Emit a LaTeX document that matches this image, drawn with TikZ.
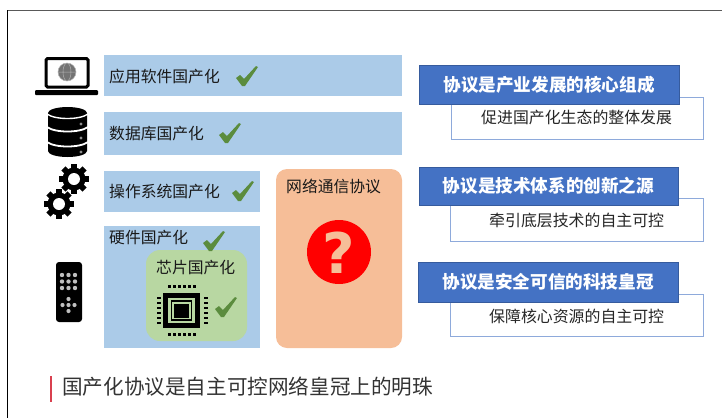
\documentclass[tikz,border=0pt]{standalone}
\usepackage{fontspec}
\setmainfont{Noto Sans CJK SC}
\newfontfamily\latinfont{DejaVu Sans}

\definecolor{layerblue}{HTML}{ABCBE8}
\definecolor{chipgreen}{HTML}{B8D7A2}
\definecolor{protoorange}{HTML}{F6BE98}
\definecolor{titleblue}{HTML}{4472C4}
\definecolor{subblue}{HTML}{8EAADB}
\definecolor{tickgreen}{HTML}{5B8C3E}
\definecolor{barred}{HTML}{D9404F}

\tikzset{
  layerlabel/.style={anchor=west,inner sep=0pt,text=black!90,font=\fontsize{15.8}{16}\selectfont},
  titlelabel/.style={text=white,inner sep=0pt,font=\fontsize{17.6}{18}\selectfont\bfseries},
  sublabel/.style={anchor=west,inner sep=0pt,text=black!85,font=\fontsize{15.9}{16}\selectfont},
  subbox/.style={draw=subblue,line width=0.9pt,fill=white},
  titlebox/.style={draw=titleblue!80!black,line width=0.6pt,fill=titleblue},
  tickmark/.pic={
    \fill[tickgreen] (-11,2) -- (-7,-1) -- (-3,3) -- (9,-10) -- (11,-9) -- (-2,10) -- (-5,10) -- cycle;
  },
  gearicon/.pic={
    \foreach \a in {0,45,...,315}
    {\fill[black,rotate=\a] (-3,-15) rectangle (3,0);}
    \fill[black] (0,0) circle (11.5);
    \fill[white] (0,0) circle (6);
  }
}

\begin{document}
\begin{tikzpicture}[x=1pt,y=-1pt]
  \useasboundingbox (0,0) rectangle (722,418);

  % frame
  \draw[black!65,line width=1pt] (7,10) -- (722,10);
  \draw[black,line width=1pt] (7,10) -- (7,418);

  % layers
  \fill[layerblue] (104,55) rectangle (402,96);
  \fill[layerblue] (104,112) rectangle (402,155);
  \fill[layerblue] (104,171) rectangle (260,212);
  \fill[layerblue] (104,226) rectangle (260,348);
  \fill[chipgreen,rounded corners=14pt] (146,250) rectangle (247,341);
  \fill[protoorange,rounded corners=11pt] (276,169) rectangle (402,348);

  \node[layerlabel] (app) at (109,76) {应用软件国产化};
  \node[layerlabel] (db) at (109,134) {数据库国产化};
  \node[layerlabel] (os) at (109,192) {操作系统国产化};
  \node[layerlabel] (hw) at (109,238) {硬件国产化};
  \node[layerlabel] (chip) at (156,268) {芯片国产化};
  \node[layerlabel] (proto) at (286,186) {网络通信协议};

  \pic at (247,76) {tickmark};
  \pic at (230,133) {tickmark};
  \pic at (243,191) {tickmark};
  \pic at (214,241) {tickmark};
  \pic at (226,307) {tickmark};

  % laptop
  \draw[black,line width=3pt,rounded corners=1.5pt] (46,58.5) rectangle (88,87);
  \fill[black,rounded corners=1pt] (35,90) rectangle (98,95);
  \fill[black!55] (67,72) circle (9);
  \draw[black!30,line width=0.5pt] (67,72) circle (9) (58,72) -- (76,72) (67,72) ellipse (4 and 9);

  % database
  \fill[black] (48,113) arc[start angle=180,end angle=360,x radius=19.5,y radius=6]
    -- (87,151) arc[start angle=0,end angle=180,x radius=19.5,y radius=6] -- cycle;
  \draw[white,line width=1.4pt] (47,114) .. controls (55,120) and (80,120) .. (88,114);
  \draw[white,line width=1.8pt] (47,127) .. controls (55,133) and (80,133) .. (88,127);
  \draw[white,line width=1.8pt] (47,142) .. controls (55,148) and (80,148) .. (88,142);
  \foreach \i in {124,138,152}
  {\fill[black!45] (81,\i) circle (1.7);}

  % gears
  \pic at (74,179) {gearicon};
  \pic at (59,204) {gearicon};

  % remote
  \fill[black,rounded corners=3pt] (56,262) rectangle (82,322);
  \foreach \i in {62,68.5,75}
  {\foreach \j in {275,281.5,288}
    {\fill[black!25] (\i,\j) circle (2.2);}}
  \foreach \i/\j in {68.5/299,62.5/305,68.5/305,74.5/305,68.5/311}
  {\fill[black!25] (\i,\j) circle (2.1);}

  % chip
  \draw[black,line width=5pt] (165.5,295.5) rectangle (197.5,325.5);
  \draw[black,line width=1.2pt] (171.5,301) rectangle (191.5,320);
  \fill[black] (174,303.5) rectangle (189,317.5);
  \foreach \i in {0,...,5}
  {\fill[black] (168+\i*5,285) rectangle +(3,3);
   \fill[black] (168+\i*5,333) rectangle +(3,3);
   \fill[black] (157,297+\i*5) rectangle +(4,2.2);
   \fill[black] (204,297+\i*5) rectangle +(4,2.2);}

  % question mark
  \fill[red] (339,252) circle (32);
  \node[inner sep=0pt,text=protoorange,font=\latinfont\bfseries\fontsize{56}{56}\selectfont] (ask) at (339,253) {?};

  % right column
  \draw[subbox] (451,97) rectangle (703,139);
  \draw[titlebox] (419,65) rectangle (679,104) node[midway,titlelabel] (titlea) {协议是产业发展的核心组成};
  \node[sublabel] (suba) at (481,117) {促进国产化生态的整体发展};

  \draw[subbox] (450,198) rectangle (703,241);
  \draw[titlebox] (419,167) rectangle (678,205) node[midway,titlelabel] (titleb) {协议是技术体系的创新之源};
  \node[sublabel] (subb) at (489,220) {牵引底层技术的自主可控};

  \draw[subbox] (450,294) rectangle (703,336);
  \draw[titlebox] (418,262) rectangle (678,302) node[midway,titlelabel] (titlec) {协议是安全可信的科技皇冠};
  \node[sublabel] (subc) at (489,316) {保障核心资源的自主可控};

  % bottom line
  \draw[barred,line width=1.6pt] (51,376) -- (51,402);
  \node[anchor=west,inner sep=0pt,text=black!80,font=\fontsize{20.6}{21}\selectfont] (motto) at (62,387) {国产化协议是自主可控网络皇冠上的明珠};
\end{tikzpicture}
\end{document}
